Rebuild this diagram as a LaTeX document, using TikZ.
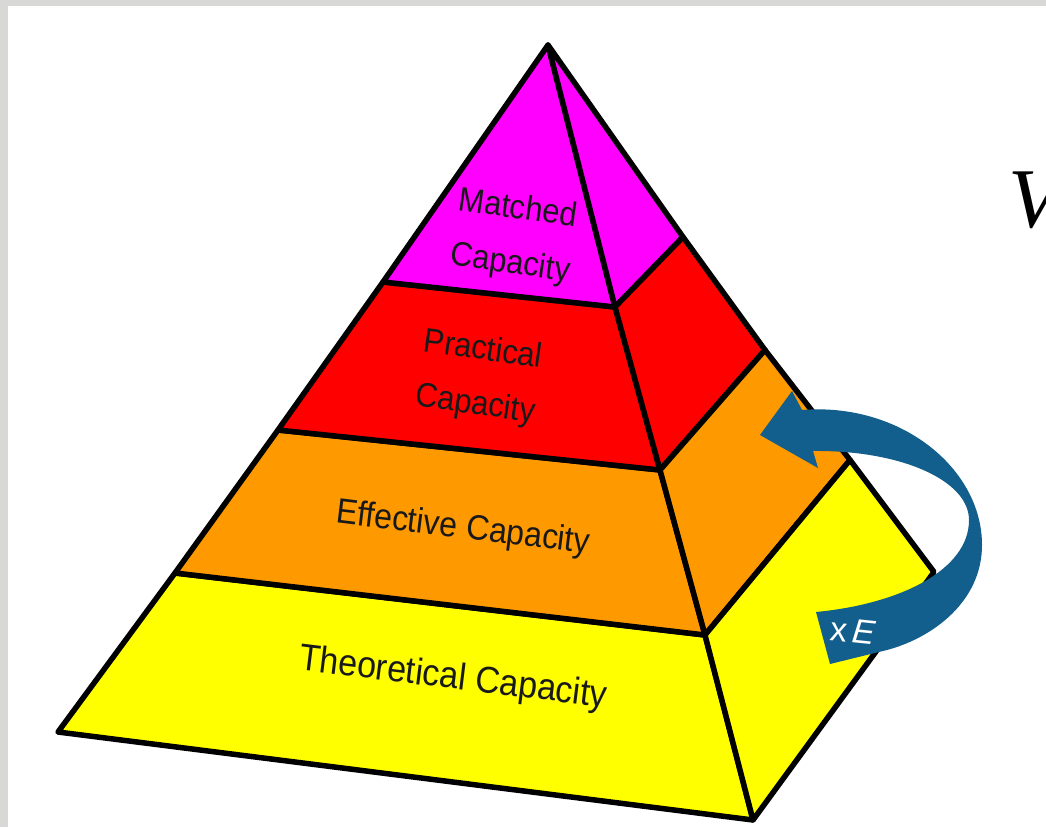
\documentclass[tikz,border=0pt]{standalone}
\usepackage{fontspec}
\setmainfont{Liberation Sans}
\newfontfamily\serifV{Liberation Serif}
\usetikzlibrary{positioning}
\definecolor{PyrMagenta}{RGB}{255,0,255}
\definecolor{PyrRed}{RGB}{255,0,0}
\definecolor{PyrOrange}{RGB}{255,153,0}
\definecolor{PyrYellow}{RGB}{255,255,0}
\definecolor{ArrowBlue}{RGB}{18,94,140}
\definecolor{FrameGray}{RGB}{216,217,215}

\tikzset{
  face/.style={draw=black, line width=5.5pt, line join=round},
  layerlabel/.style={font=\fontsize{31}{50}\selectfont, align=center, text=black!90},
}

\begin{document}
\begin{tikzpicture}[x=1pt, y=-1pt]

% The frame
\useasboundingbox (0,0) rectangle (1046,827);
\fill[white] (0,0) rectangle (1046,827);
\fill[FrameGray] (0,0) rectangle (1046,6);
\fill[FrameGray] (0,0) rectangle (8,827);

% Corners of the pyramid
\coordinate (apex) at (548,45);
\coordinate (left) at (58,732);
\coordinate (front) at (753,820);
\coordinate (back) at (934,572);

% Left edge
\coordinate (l1) at (383,282);
\coordinate (l2) at (278,430);
\coordinate (l3) at (175,573);
% Ridge
\coordinate (c1) at (615,307);
\coordinate (c2) at (660,470);
\coordinate (c3) at (705,635);
% Right edge
\coordinate (r1) at (683,237);
\coordinate (r2) at (765,350);
\coordinate (r3) at (850,460);

% Front face layers
\draw[face, fill=PyrYellow]  (l3) -- (c3) -- (front) -- (left) -- cycle;
\draw[face, fill=PyrOrange]  (l2) -- (c2) -- (c3) -- (l3) -- cycle;
\draw[face, fill=PyrRed]     (l1) -- (c1) -- (c2) -- (l2) -- cycle;
\draw[face, fill=PyrMagenta] (apex) -- (c1) -- (l1) -- cycle;

% Right face layers
\draw[face, fill=PyrMagenta] (apex) -- (r1) -- (c1) -- cycle;
\draw[face, fill=PyrRed]     (c1) -- (r1) -- (r2) -- (c2) -- cycle;
\draw[face, fill=PyrOrange]  (c2) -- (r2) -- (r3) -- (c3) -- cycle;
\draw[face, fill=PyrYellow]  (c3) -- (r3) -- (back) -- (front) -- cycle;

% Layer labels
\node[layerlabel, rotate=-8, yscale=1.1] (matched) at (514,237) {Matched\\Capacity};
\node[layerlabel, rotate=-8, yscale=1.1] (practical) at (479,378) {Practical\\Capacity};
\node[layerlabel, rotate=-7, yscale=1.1, font=\fontsize{32}{50}\selectfont] (effective) at (463,529) {Effective Capacity};
\node[layerlabel, rotate=-7, yscale=1.1, font=\fontsize{34}{50}\selectfont] (theoretical) at (453,679) {Theoretical Capacity};

% Curved arrow
\fill[ArrowBlue] (802,410)
  .. controls (900,402) and (982,468) .. (982,545)
  .. controls (982,602) and (932,638) .. (887,650)
  -- (830,664) -- (816,612)
  .. controls (900,604) and (969,570) .. (969,520)
  .. controls (969,480) and (900,450) .. (813,451)
  -- (818,468) -- (760,435) -- (792,391) -- cycle;
\node[text=white, font=\fontsize{34}{36}\selectfont, rotate=-6] (factor) at (853,631) {x\,\textit{E}};

% Cut off title letter
\node[anchor=west, inner sep=0pt, font=\serifV\itshape\fontsize{85}{90}\selectfont] (title) at (1008,200) {V};

\end{tikzpicture}
\end{document}
